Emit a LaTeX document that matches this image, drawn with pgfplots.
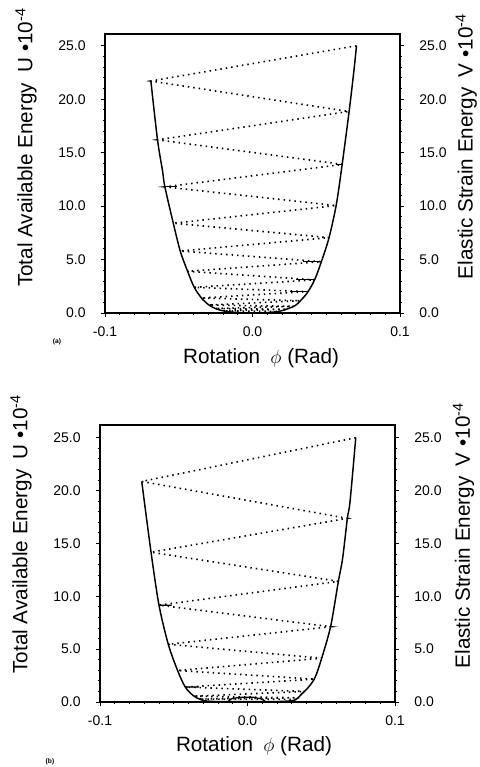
\documentclass[border=0pt]{standalone}
\usepackage{fontspec}
\setmainfont{Liberation Sans}
\usepackage{pgfplots}
\pgfplotsset{compat=1.18}
\pgfplotsset{
  panel/.style={
    scale only axis, width=221.25pt,
    xmin=-0.1, xmax=0.1, ymin=0,
    xtick={-0.1,0,0.1}, ytick={0,5,10,15,20,25},
    minor x tick num=9, minor y tick num=4,
    tick align=outside, major tick length=3pt, minor tick length=1.5pt,
    tick style={line width=0.6pt, black},
    axis line style={line width=1.1pt},
    xtick pos=bottom, ytick pos=left,
    tick label style={font=\fontsize{10.5}{12}\selectfont},
    yticklabel shift=8pt, xticklabel shift=4pt,
    label style={font=\fontsize{15.5}{18}\selectfont},
    /pgf/number format/.cd, fixed, fixed zerofill, precision=1, assume math mode=true
  },
  rpanel/.style={
    scale only axis, width=221.25pt,
    xmin=-0.1, xmax=0.1, ymin=0,
    axis x line=none, axis y line*=right,
    ytick={0,5,10,15,20,25}, minor y tick num=4,
    tick align=outside, major tick length=3pt, minor tick length=1.5pt,
    tick style={line width=0.6pt, black},
    axis line style={line width=1.1pt},
    tick label style={font=\fontsize{10.5}{12}\selectfont},
    yticklabel shift=8pt,
    label style={font=\fontsize{15.5}{18}\selectfont},
    /pgf/number format/.cd, fixed, fixed zerofill, precision=1, assume math mode=true
  },
  zig/.style={black, line width=1.2pt, dash pattern=on 1.1pt off 3pt},
  wall/.style={black, line width=1.1pt, smooth, tension=0.5},
  seg/.style={black, line width=0.9pt}
}
\begin{document}
\begin{tikzpicture}
\useasboundingbox (0,0) rectangle (359.25pt,575.25pt);
% ---------------- panel (a) ----------------
\begin{axis}[panel, at={(78.75pt,340.5pt)}, anchor=south west, height=209.25pt, ymax=26.1,
  xlabel={Rotation\enspace $\phi$ (Rad)},
  xlabel style={at={(axis description cs:0.529,-0.161)}, anchor=center},
  ylabel={Total Available Energy\enspace U •10\textsuperscript{-4}},
  ylabel style={at={(axis description cs:-0.268,0.593)}, anchor=center, rotate=0}]
\addplot[wall] coordinates {
(-0.0689,21.7) (-0.0644,16.2) (-0.0610,13.3) (-0.0594,11.8) (-0.0537,8.4)
(-0.0490,5.8) (-0.0440,3.9) (-0.0395,2.4) (-0.0340,1.3) (-0.0290,0.7)
(-0.0240,0.35) (-0.0180,0.15) (-0.0100,0.04) (0.0,0.0) (0.0100,0.04)
(0.0180,0.15) (0.0240,0.4) (0.0290,0.7) (0.0322,1.1) (0.0372,1.9)
(0.0421,3.1) (0.0467,4.8) (0.0519,7.05) (0.0567,10.05) (0.0603,13.4)
(0.0655,18.85) (0.0687,22.6) (0.0705,25.0)};
\addplot[zig] coordinates {
(0.0705,25.0) (-0.0689,21.7) (0.0652,18.85) (-0.0644,16.2) (0.0612,13.9)
(-0.0595,11.8) (0.0567,10.05) (-0.0537,8.4) (0.0519,7.05) (-0.0490,5.8)
(0.0467,4.8) (-0.0440,3.9) (0.0421,3.1) (-0.0395,2.4) (0.0376,2.0)
(-0.0348,1.4) (0.0322,1.15) (-0.0295,0.75) (0.0280,0.62) (-0.0255,0.42)
(0.0235,0.35) (-0.0200,0.2) (0.0180,0.15)};
\addplot[seg, unbounded coords=jump] coordinates {
(0.0569,13.9) (0.0612,13.9) (nan,nan)
(-0.0594,11.8) (-0.0510,11.8) (nan,nan)
(0.0342,4.8) (0.0467,4.8) (nan,nan)
(0.0297,3.1) (0.0421,3.1) (nan,nan)
(0.0252,2.0) (0.0376,2.0)};
\end{axis}
\begin{axis}[rpanel, at={(78.75pt,340.5pt)}, anchor=south west, height=209.25pt, ymax=26.1,
  ylabel={Elastic Strain Energy\enspace V •10\textsuperscript{-4}},
  ylabel style={at={(axis description cs:1.225,0.597)}, anchor=center}]
\addplot[draw=none] coordinates {(0,0)};
\end{axis}
\node[font=\fontsize{5}{6}\selectfont\bfseries] at (42.75pt,318.75pt) {(a)};
% ---------------- panel (b) ----------------
\begin{axis}[panel, at={(75pt,48.75pt)}, anchor=south west, height=207.75pt, ymax=26.2,
  xlabel={Rotation\enspace $\phi$ (Rad)},
  xlabel style={at={(axis description cs:0.522,-0.158)}, anchor=center},
  ylabel={Total Available Energy\enspace U •10\textsuperscript{-4}},
  ylabel style={at={(axis description cs:-0.268,0.606)}, anchor=center, rotate=0}]
\addplot[wall] coordinates {
(-0.0717,20.86) (-0.0654,14.17) (-0.0600,9.16) (-0.0537,5.46) (-0.0474,2.98)
(-0.0422,1.41) (-0.0367,0.6) (-0.0322,0.25) (-0.0280,0.1) (-0.0200,0.04)
(0.0,0.03) (0.0200,0.04) (0.0300,0.12) (0.0333,0.28) (0.0367,0.75)
(0.0412,1.38) (0.0458,2.32) (0.0503,4.14) (0.0564,7.18) (0.0616,11.41)
(0.0645,13.6) (0.0677,17.37) (0.0695,18.94) (0.0734,25.0)};
\addplot[zig] coordinates {
(0.0734,25.0) (-0.0717,20.86) (0.0677,17.37) (-0.0654,14.17) (0.0616,11.41)
(-0.0600,9.16) (0.0564,7.12) (-0.0537,5.46) (0.0503,4.14) (-0.0474,2.98)
(0.0455,2.16) (-0.0422,1.41) (0.0390,1.0) (-0.0367,0.55) (0.0350,0.4)
(-0.0330,0.28) (0.0333,0.25)};
\addplot[seg, unbounded coords=jump] coordinates {
(-0.0600,9.16) (-0.0514,9.16) (nan,nan)
(-0.0422,1.41) (-0.0330,1.41) (nan,nan)
(-0.013,0.1) (-0.010,0.35) (-0.004,0.45) (0.004,0.45) (0.009,0.3) (0.012,0.1)};
\end{axis}
\begin{axis}[rpanel, at={(75pt,48.75pt)}, anchor=south west, height=207.75pt, ymax=26.2,
  ylabel={Elastic Strain Energy\enspace V •10\textsuperscript{-4}},
  ylabel style={at={(axis description cs:1.232,0.601)}, anchor=center}]
\addplot[draw=none] coordinates {(0,0)};
\end{axis}
\node[font=\fontsize{5}{6}\selectfont\bfseries] at (37.5pt,3.75pt) {(b)};
\end{tikzpicture}
\end{document}
